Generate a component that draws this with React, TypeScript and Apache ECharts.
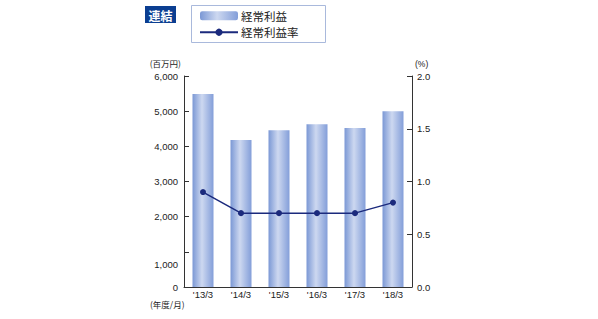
import React, { useEffect, useRef } from "react";
import * as echarts from "echarts";

const categories = ["'13/3", "'14/3", "'15/3", "'16/3", "'17/3", "'18/3"];
const ordinaryProfit = [5490, 4180, 4460, 4630, 4520, 5000];
const profitRate = [0.9, 0.7, 0.7, 0.7, 0.7, 0.8];
const leftTicks = [0, 1000, 2000, 3000, 4000, 5000, 6000];
const rightTicks = [0, 0.5, 1.0, 1.5, 2.0];

const FONT = "'Liberation Sans', Arial, 'Noto Sans CJK JP', sans-serif";

export default function App() {
  const ref = useRef<HTMLDivElement>(null);
  useEffect(() => {
    if (!ref.current) return;
    const chart = echarts.init(ref.current, undefined, { renderer: "svg" });
    const barGrad = new echarts.graphic.LinearGradient(0, 0, 1, 0, [
      { offset: 0, color: "#7b98d5" },
      { offset: 0.45, color: "#cdd8f0" },
      { offset: 1, color: "#839ed9" },
    ]);
    chart.setOption({
      animation: false,
      textStyle: { fontFamily: FONT },
      grid: { left: 184, right: 186, top: 76, bottom: 32 },
      legend: {
        orient: "vertical",
        left: 199,
        top: 10,
        itemWidth: 38,
        itemHeight: 9,
        itemGap: 5,
        padding: 0,
        textStyle: { fontSize: 11.5, color: "#222", fontFamily: "'Noto Sans CJK JP', sans-serif", padding: [0, 0, 0, -2] },
        data: [{ name: "経常利益" }, { name: "経常利益率" }],
      },
      xAxis: {
        type: "category",
        data: categories,
        axisLine: { lineStyle: { color: "#333", width: 1 } },
        axisTick: { show: false },
        axisLabel: { color: "#222", fontSize: 9.5, margin: 3 },
      },
      yAxis: [
        {
          type: "value",
          min: leftTicks[0],
          max: leftTicks[leftTicks.length - 1],
          interval: 1000,
          axisLine: { show: true, lineStyle: { color: "#333", width: 1 } },
          axisTick: { show: true, inside: true, length: 5, lineStyle: { color: "#333" } },
          splitLine: { show: false },
          axisLabel: {
            color: "#222",
            fontSize: 9.5,
            margin: 6,
            formatter: (v: number) =>
              v === 1000 ? "{low|1,000}" : v.toLocaleString("en-US"),
            rich: { low: { fontSize: 9.5, color: "#222", padding: [26, 0, 0, 0] } },
          },
        },
        {
          type: "value",
          min: rightTicks[0],
          max: rightTicks[rightTicks.length - 1],
          interval: 0.5,
          axisLine: { show: true, lineStyle: { color: "#333", width: 1 } },
          axisTick: { show: true, inside: true, length: 5, lineStyle: { color: "#333" } },
          splitLine: { show: false },
          axisLabel: {
            color: "#222",
            fontSize: 9.5,
            margin: 5,
            formatter: (v: number) => v.toFixed(1),
          },
        },
      ],
      series: [
        {
          name: "経常利益",
          type: "bar",
          data: ordinaryProfit,
          barWidth: 21,
          itemStyle: { color: barGrad },
        },
        {
          name: "経常利益率",
          type: "line",
          yAxisIndex: 1,
          data: profitRate,
          symbol: "circle",
          symbolSize: 6,
          lineStyle: { color: "#1b2a7d", width: 1.5 },
          itemStyle: { color: "#1b2a7d" },
        },
      ],
      graphic: [
        {
          type: "rect",
          shape: { x: 145, y: 6, width: 31, height: 17 },
          style: { fill: "#0b3e91" },
        },
        {
          type: "text",
          x: 160.5,
          y: 15,
          style: {
            text: "連結",
            fill: "#fff",
            fontSize: 12,
            fontWeight: "bold",
            fontFamily: "'Noto Sans CJK JP', sans-serif",
            align: "center",
            verticalAlign: "middle",
          },
        },
        {
          type: "rect",
          shape: { x: 191.5, y: 5.5, width: 134, height: 37 },
          style: { fill: "none", stroke: "#a9b9dc", lineWidth: 1 },
        },
        {
          type: "text",
          x: 181,
          y: 63,
          style: {
            text: "(百万円)",
            fill: "#222",
            fontSize: 8.5,
            fontFamily: "'Noto Sans CJK JP', sans-serif",
            align: "right",
            verticalAlign: "middle",
          },
        },
        {
          type: "text",
          x: 415,
          y: 64,
          style: {
            text: "(%)",
            fill: "#222",
            fontSize: 8.5,
            fontFamily: FONT,
            align: "left",
            verticalAlign: "middle",
          },
        },
        {
          type: "text",
          x: 150,
          y: 304,
          style: {
            text: "(年度/月)",
            fill: "#222",
            fontSize: 8.5,
            fontFamily: "'Noto Sans CJK JP', sans-serif",
            align: "left",
            verticalAlign: "middle",
          },
        },
      ],
    });
    return () => chart.dispose();
  }, []);
  return <div ref={ref} style={{ width: 598, height: 319, position: "absolute", left: 0, top: 0 }} />;
}
